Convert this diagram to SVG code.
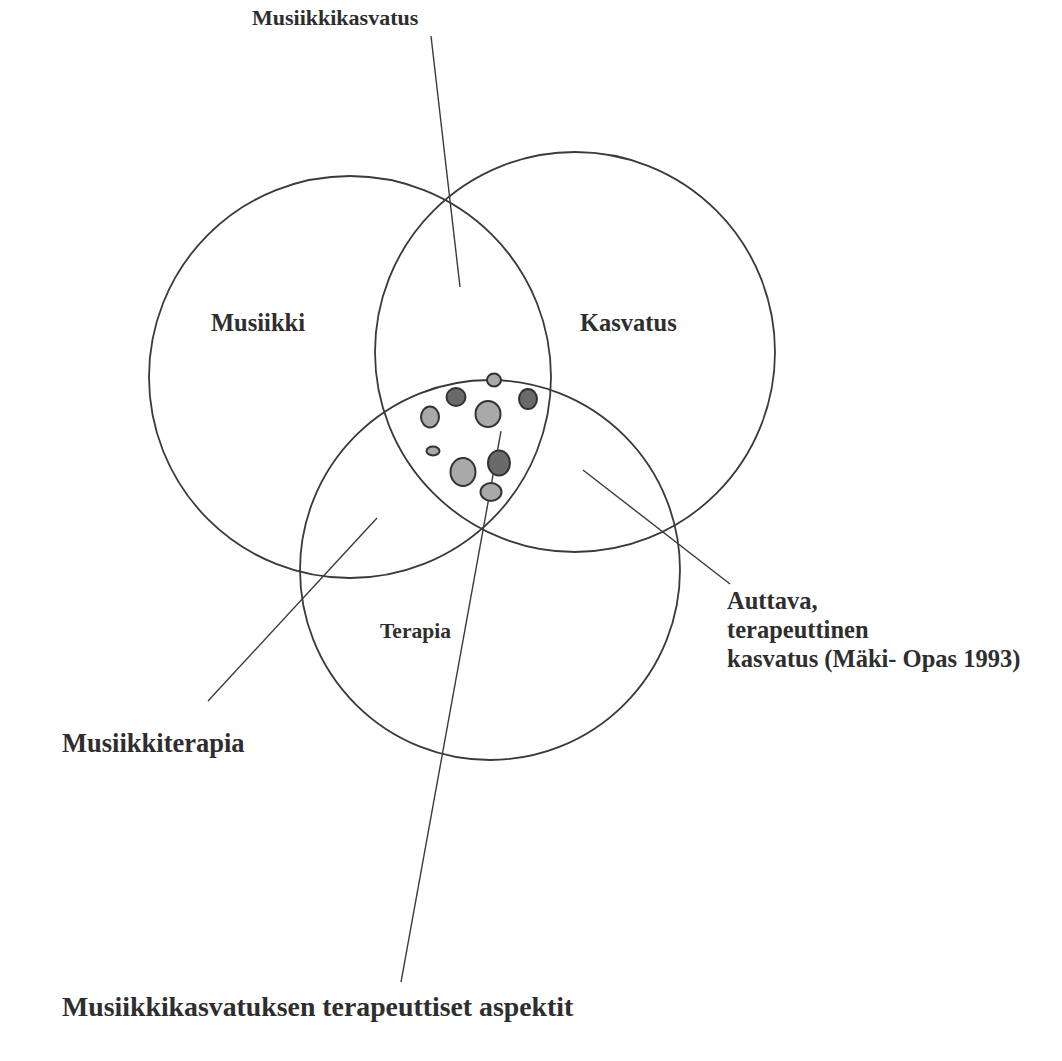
<svg xmlns="http://www.w3.org/2000/svg" width="1062" height="1061" viewBox="0 0 1062 1061">
  <style>
    .ring { fill: none; stroke: #3a3a3a; stroke-width: 1.8; }
    .lead { fill: none; stroke: #3a3a3a; stroke-width: 1.4; }
    .lbl { font-family: "Liberation Serif", "Times New Roman", serif; font-weight: bold; fill: #2e2e2e; }
    .title { font-family: "Liberation Serif", "Times New Roman", serif; font-weight: bold; font-size: 27.8px; fill: #2e2e2e; }
    .dot-l { fill: #a9a9a9; stroke: #333; stroke-width: 2; }
    .dot-d { fill: #6a6a6a; stroke: #333; stroke-width: 2; }
  </style>
  <rect width="1062" height="1061" fill="#ffffff"/>

  <!-- leader lines from labels into the regions -->
  <g id="connectors">
    <line class="lead" x1="431" y1="36" x2="460" y2="287"/>
    <line class="lead" x1="501" y1="431" x2="401" y2="982"/>
    <line class="lead" x1="377" y1="518" x2="208" y2="701"/>
    <line class="lead" x1="583" y1="470" x2="730" y2="584"/>
  </g>

  <g id="musiikki">
    <circle class="ring" cx="350" cy="377" r="201"/>
    <text class="lbl" x="211" y="331" font-size="24.5">Musiikki</text>
  </g>
  <g id="kasvatus">
    <circle class="ring" cx="575" cy="352" r="200"/>
    <text class="lbl" x="580" y="331" font-size="24.5">Kasvatus</text>
  </g>
  <g id="terapia">
    <circle class="ring" cx="490" cy="570" r="190"/>
    <text class="lbl" x="380" y="638" font-size="21.5">Terapia</text>
  </g>

  <!-- therapeutic aspects: spots in the triple overlap -->
  <g id="aspektit-spots">
    <ellipse class="dot-l" cx="494" cy="380" rx="7" ry="6.5"/>
    <ellipse class="dot-d" cx="456" cy="397" rx="9.5" ry="9"/>
    <ellipse class="dot-d" cx="528" cy="399" rx="9" ry="10"/>
    <ellipse class="dot-l" cx="430" cy="417" rx="9" ry="10.5"/>
    <ellipse class="dot-l" cx="488" cy="414" rx="12.5" ry="13"/>
    <ellipse class="dot-l" cx="433" cy="451" rx="6.5" ry="4.5"/>
    <ellipse class="dot-l" cx="463" cy="472" rx="12.5" ry="14"/>
    <ellipse class="dot-d" cx="499" cy="463" rx="11" ry="12.5"/>
    <ellipse class="dot-l" cx="491" cy="492" rx="10.5" ry="9"/>
  </g>

  <g id="musiikkikasvatus">
    <text class="lbl" x="252" y="25" font-size="22">Musiikkikasvatus</text>
  </g>
  <g id="musiikkiterapia">
    <text class="lbl" x="62" y="752" font-size="26.5">Musiikkiterapia</text>
  </g>
  <g id="auttava">
    <text class="lbl" x="727" y="609" font-size="24.5">Auttava,</text>
    <text class="lbl" x="727" y="638" font-size="24.5">terapeuttinen</text>
    <text class="lbl" x="727" y="667" font-size="24.5">kasvatus (Mäki- Opas 1993)</text>
  </g>
  <g id="terapeuttiset-aspektit">
    <text class="title" x="62" y="1016">Musiikkikasvatuksen terapeuttiset aspektit</text>
  </g>
</svg>
